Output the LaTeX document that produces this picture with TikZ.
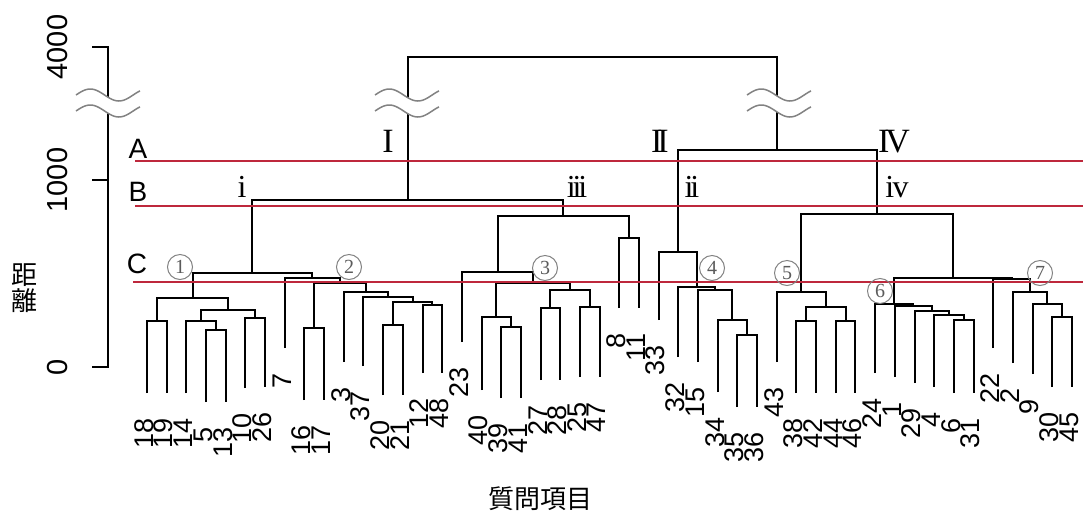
\documentclass[tikz,border=0pt]{standalone}
\usepackage{fontspec}
\setmainfont{Liberation Serif}
\newfontfamily\lsans{Liberation Sans}
\newfontfamily\lserif{Liberation Serif}
\newfontfamily\cjk{Noto Sans CJK JP}
\usetikzlibrary{calc}
\definecolor{cutred}{RGB}{190,40,60}
\definecolor{brk}{RGB}{130,130,130}
\newcommand\mrg[4]{%
  \path ($(#2)!0.5!(#3)$) coordinate (t#1);
  \coordinate (#1) at (t#1 |- 0,#4);
  \draw[tree] (#2) -- (#2 |- #1) -- (#3 |- #1) -- (#3);
}
\begin{document}
\begin{tikzpicture}[x=1pt,y=-1pt,
  tree/.style={line width=2pt,line join=miter,black},
  leaflab/.style={font=\lsans\fontsize{27}{27}\selectfont,inner sep=0pt,rotate=90,anchor=east},
  axlab/.style={font=\lsans\fontsize{29}{29}\selectfont,inner sep=0pt,rotate=90},
  cutlab/.style={font=\lsans\fontsize{28}{28}\selectfont,inner sep=0pt,anchor=base},
  romcap/.style={font=\lserif\fontsize{34}{34}\selectfont,inner sep=0pt,anchor=base},
  romlow/.style={font=\lserif\fontsize{32}{32}\selectfont,inner sep=0pt,anchor=base},
  circnum/.style={circle,draw=brk,line width=1pt,minimum size=25pt,inner sep=0pt,
    text=brk!70!black,font=\lserif\fontsize{20}{20}\selectfont},
  cutline/.style={cutred,line width=1.8pt},
  brkline/.style={brk,line width=1.5pt},
  cjklab/.style={font=\cjk\fontsize{26}{26}\selectfont,inner sep=0pt}]
\useasboundingbox (0,0) rectangle (1083,512);

% leaves
\foreach \lab/\bot [count=\i] in {18/393,19/393,14/393,5/402,13/402,10/388,26/387,7/348,
  16/400,17/400,3/362,37/366,20/395,21/395,12/373,48/373,
  23/342,40/390,39/398,41/398,27/380,28/380,25/377,47/377,
  8/308,11/308,33/320,32/357,15/362,34/392,35/407,36/407,
  43/362,38/393,42/393,44/393,46/393,24/373,1/377,29/383,
  4/387,6/393,31/393,22/348,2/363,9/374,30/387,45/387}{
  \coordinate (L\i) at ({147+19.68*(\i-1)},\bot);
  \node[leaflab] (T\i) at ({147+19.68*(\i-1)-3},{\bot+25}) {\lab};
}

% cluster 1
\mrg{M1}{L1}{L2}{321}
\mrg{M2}{L4}{L5}{330}
\mrg{M3}{L3}{M2}{321}
\mrg{M4}{L6}{L7}{318}
\mrg{M5}{M3}{M4}{310}
\mrg{M6}{M1}{M5}{298}
% cluster 2
\mrg{M7}{L9}{L10}{328}
\mrg{M8}{L13}{L14}{325}
\mrg{M9}{L15}{L16}{305}
\mrg{M10}{M8}{M9}{302}
\mrg{M11}{L12}{M10}{297}
\mrg{M12}{L11}{M11}{292}
\mrg{M13}{M7}{M12}{283}
\mrg{M14}{L8}{M13}{278}
\mrg{M15}{M6}{M14}{273}
% cluster 3
\mrg{M16}{L19}{L20}{327}
\mrg{M17}{L18}{M16}{317}
\mrg{M18}{L21}{L22}{308}
\mrg{M19}{L23}{L24}{307}
\mrg{M20}{M18}{M19}{290}
\mrg{M21}{M17}{M20}{283}
\mrg{M22}{L17}{M21}{272}
\mrg{M23}{L25}{L26}{238}
\mrg{M24}{M22}{M23}{216}
\mrg{M25}{M15}{M24}{200}
% cluster 4
\mrg{M26}{L31}{L32}{335}
\mrg{M27}{L30}{M26}{320}
\mrg{M28}{L29}{M27}{290}
\mrg{M29}{L28}{M28}{287}
\mrg{M30}{L27}{M29}{252}
% cluster 5
\mrg{M31}{L34}{L35}{321}
\mrg{M32}{L36}{L37}{321}
\mrg{M33}{M31}{M32}{307}
\mrg{M34}{L33}{M33}{292}
% cluster 6
\mrg{M35}{L42}{L43}{320}
\mrg{M36}{L41}{M35}{315}
\mrg{M37}{L40}{M36}{311}
\mrg{M38}{L39}{M37}{306}
\mrg{M39}{L38}{M38}{304}
% cluster 7
\mrg{M40}{L47}{L48}{317}
\mrg{M41}{L46}{M40}{304}
\mrg{M42}{L45}{M41}{292}
\mrg{M43}{L44}{M42}{279}
\mrg{M44}{M39}{M43}{278}
\mrg{M45}{M34}{M44}{214}
\mrg{M46}{M30}{M45}{150}
\mrg{M47}{M25}{M46}{57}

% axis
\coordinate (ax4000) at (108,47);
\coordinate (ax1000) at (108,180);
\coordinate (ax0) at (108,367);
\draw[tree] ([xshift=-16pt]ax4000) -- (ax4000) -- (ax0) -- ([xshift=-16pt]ax0);
\draw[tree] ([xshift=-16pt]ax1000) -- (ax1000);
\node[axlab] (n4000) at (58,47) {4000};
\node[axlab] (n1000) at (58,180) {1000};
\node[axlab] (n0) at (58,367) {0};

% breaks
\foreach \cx in {108,407,779}{
  \fill[white] plot[domain=-32:32,samples=40] ({\cx+\x},{95-6*sin((\x+32)*6.3)})
    -- plot[domain=32:-32,samples=40] ({\cx+\x},{111-6*sin((\x+32)*6.3)}) -- cycle;
  \draw[brkline] plot[domain=-32:32,samples=40] ({\cx+\x},{95-6*sin((\x+32)*6.3)});
  \draw[brkline] plot[domain=-32:32,samples=40] ({\cx+\x},{111-6*sin((\x+32)*6.3)});
}

% cut lines
\coordinate (As) at (135,161); \coordinate (Ae) at (1083,161);
\coordinate (Bs) at (135,206); \coordinate (Be) at (1083,206);
\coordinate (Cs) at (133,282); \coordinate (Ce) at (1083,282);
\draw[cutline] (As) -- (Ae);
\draw[cutline] (Bs) -- (Be);
\draw[cutline] (Cs) -- (Ce);
\node[cutlab] (labA) at (138,158) {A};
\node[cutlab] (labB) at (138,201) {B};
\node[cutlab] (labC) at (137,273) {C};

% roman numerals
\node[romcap] (rI) at (388,152) {I};
\node[romcap] (rII) at (660,152) {I\kern-0.15em I};
\node[romcap] (rIV) at (894,152) {I\kern-0.12em V};
\node[romlow] (ri) at (242,197) {i};
\node[romlow] (riii) at (577,197) {i\kern-0.1em i\kern-0.1em i};
\node[romlow] (rii) at (692,197) {i\kern-0.1em i};
\node[romlow] (riv) at (897,197) {i\kern-0.05em v};

% circled cluster numbers
\node[circnum] (c1) at (180,267) {1};
\node[circnum] (c2) at (349,267) {2};
\node[circnum] (c3) at (545,268) {3};
\node[circnum] (c4) at (712,268) {4};
\node[circnum] (c5) at (787,273) {5};
\node[circnum] (c6) at (880,291) {6};
\node[circnum] (c7) at (1040,273) {7};

% axis titles
\node[cjklab] (dist1) at (25,275) {距};
\node[cjklab] (dist2) at (25,301) {離};
\node[cjklab] (qi) at (540,499) {質問項目};
\end{tikzpicture}
\end{document}
